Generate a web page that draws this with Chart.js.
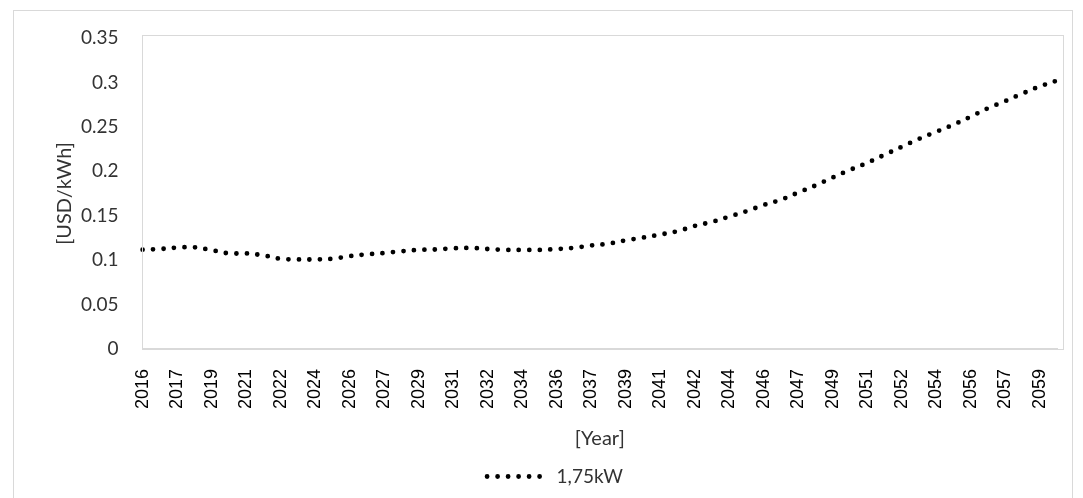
<!DOCTYPE html>
<html>
<head>
<meta charset="utf-8">
<script src="https://cdn.jsdelivr.net/npm/chart.js@4.4.0/dist/chart.umd.min.js"></script>
<style>
html, body { margin: 0; padding: 0; background: #fff; }
#wrap { width: 1083px; height: 498px; position: relative; }
</style>
</head>
<body>
<div id="wrap"><canvas id="costCanvas"></canvas></div>
<script>
// categories (every other one is labelled on the axis)
const years = [
    "2016", "2016", "2017", "2018", "2019", "2020", "2021", "2021", "2022", "2023",
    "2024", "2025", "2026", "2026", "2027", "2028", "2029", "2030", "2031", "2031",
    "2032", "2033", "2034", "2035", "2036", "2036", "2037", "2038", "2039", "2040",
    "2041", "2041", "2042", "2043", "2044", "2045", "2046", "2046", "2047", "2048",
    "2049", "2050", "2051", "2051", "2052", "2053", "2054", "2055", "2056", "2056",
    "2057", "2058", "2059", "2060"
];

// USD/kWh, 1,75kW system
const cost175 = [
    0.1118, 0.1125, 0.1140, 0.1145, 0.1112, 0.1076, 0.1076, 0.1053, 0.1015, 0.1008,
    0.1008, 0.1015, 0.1045, 0.1065, 0.1080, 0.1100, 0.1115, 0.1120, 0.1133, 0.1137,
    0.1125, 0.1115, 0.1115, 0.1115, 0.1125, 0.1138, 0.1165, 0.1185, 0.1222, 0.1253,
    0.1288, 0.1325, 0.1385, 0.1430, 0.1490, 0.1550, 0.1620, 0.1680, 0.1760, 0.1840,
    0.1930, 0.2015, 0.2095, 0.2185, 0.2275, 0.2365, 0.2445, 0.2525, 0.2615, 0.2710,
    0.2790, 0.2875, 0.2955, 0.3020
];

const yTicks = [0, 0.05, 0.1, 0.15, 0.2, 0.25, 0.3, 0.35];

const dotDash = [0, 10.5];

// light grey frame round the plot and round the whole chart
const frames = {
    id: "frames",
    afterDraw(chart) {
        const ctx = chart.ctx;
        const a = chart.chartArea;
        ctx.save();
        ctx.strokeStyle = "#d9d9d9";
        ctx.lineWidth = 1;
        ctx.strokeRect(Math.round(a.left) - 0.5, Math.round(a.top) - 2.5,
            Math.round(a.right - a.left) + 7, Math.round(a.bottom - a.top) + 3);
        ctx.strokeRect(13.5, 10.5, 1059, 490);
        ctx.restore();
    }
};

const costCanvas = document.getElementById("costCanvas");

const costChart = new Chart(costCanvas, {
    type: "line",
    data: {
        labels: years,
        datasets: [
            {
                label: "1,75kW",
                data: cost175,
                borderColor: "#000",
                backgroundColor: "#000",
                borderWidth: 4.8,
                borderDash: dotDash,
                borderCapStyle: "round",
                pointRadius: 0,
                tension: 0.4,
                fill: false
            }
        ]
    },
    options: {
        responsive: true,
        maintainAspectRatio: false,
        animation: false,
        layout: {
            padding: { left: 53, right: 26, top: 38, bottom: 2 }
        },
        plugins: {
            legend: {
                position: "bottom",
                labels: {
                    usePointStyle: true,
                    pointStyleWidth: 60,
                    color: "#333",
                    font: { family: "Lato", size: 19 },
                    padding: 12,
                    generateLabels: function (chart) {
                        return chart.data.datasets.map((ds, i) => ({
                            text: ds.label,
                            datasetIndex: i,
                            pointStyle: "line",
                            strokeStyle: ds.borderColor,
                            fillStyle: ds.borderColor,
                            fontColor: "#333",
                            lineWidth: ds.borderWidth,
                            lineDash: ds.borderDash,
                            lineCap: "round",
                            hidden: false
                        }));
                    }
                }
            },
            tooltip: { enabled: false }
        },
        scales: {
            x: {
                grid: { display: false, tickLength: 8 },
                border: { color: "#d9d9d9" },
                afterFit: function (scale) {
                    scale.paddingRight = 0;
                },
                ticks: {
                    autoSkip: false,
                    minRotation: 90,
                    maxRotation: 90,
                    padding: 12,
                    color: "#000",
                    font: { family: "Liberation Sans", size: 18 },
                    callback: function (v, i) {
                        return i % 2 === 0 ? this.getLabelForValue(v) : "";
                    }
                },
                title: {
                    display: true,
                    text: "[Year]",
                    color: "#333",
                    font: { family: "Lato", size: 20 },
                    padding: { top: 6, bottom: 4 }
                }
            },
            y: {
                min: 0,
                max: 0.35,
                grid: { display: false, tickLength: 20 },
                border: { color: "#d9d9d9" },
                afterBuildTicks: function (scale) {
                    scale.ticks = yTicks.map(v => ({ value: v }));
                },
                ticks: {
                    padding: 4,
                    color: "#333",
                    font: { family: "Lato", size: 19 },
                    callback: v => String(+v.toFixed(2))
                },
                title: {
                    display: true,
                    text: "[USD/kWh]",
                    color: "#333",
                    font: { family: "Lato", size: 20 },
                    padding: { top: 0, bottom: 0 }
                }
            }
        }
    },
    plugins: [frames]
});
</script>
</body>
</html>
